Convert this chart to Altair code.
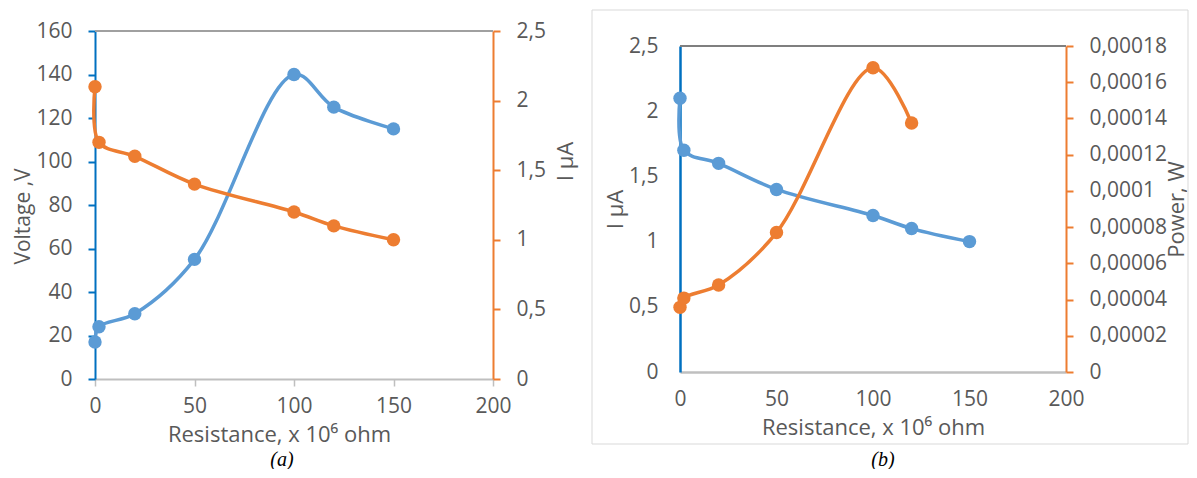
import altair as alt
import pandas as pd

# ---------------- data ----------------
res_a = [0, 2, 20, 50, 100, 120, 150]
volt_a = [17, 24, 30, 55, 140, 125, 115]
curr_a = [2.1, 1.7, 1.6, 1.4, 1.2, 1.1, 1.0]

res_b = [0, 2, 20, 50, 100, 120, 150]
curr_b = [2.1, 1.7, 1.6, 1.4, 1.2, 1.1, 1.0]
res_bp = [0, 2, 20, 50, 100, 120]
power_b = [0.0000357, 0.0000408, 0.000048, 0.000077, 0.000168, 0.0001375]

x_ticks = [0, 50, 100, 150, 200]
volt_ticks = [0, 20, 40, 60, 80, 100, 120, 140, 160]
curr_ticks = [0, 0.5, 1, 1.5, 2, 2.5]
power_ticks = [0, 0.00002, 0.00004, 0.00006, 0.00008, 0.0001, 0.00012, 0.00014, 0.00016, 0.00018]

x_title = "Resistance, x 10\u2076 ohm"

# ---------------- layout ----------------
W, H = 971, 348
A_XR = [0, 398]
A_YR = [348, 0]
B_XR = [585, 971]
B_YR = [341, 15]

BLUE = "#5B9BD5"
ORANGE = "#ED7D31"
AXBLUE = "#0070C0"
GRAY = "#BFBFBF"
TXT = "#595959"
FONT = "Open Sans"
LBL = 21
YT = 21
XT = 22

df_va = pd.DataFrame({"r": res_a, "v": volt_a})
df_ia = pd.DataFrame({"r": res_a, "i": curr_a})
df_ib = pd.DataFrame({"r": res_b, "i": curr_b})
df_pb = pd.DataFrame({"r": res_bp, "p": power_b})
one = pd.DataFrame({"k": [0]})

comma1 = "replace(format(datum.value, '.1~f'), '.', ',')"
comma5 = "replace(format(datum.value, '.5~f'), '.', ',')"


def series(df, ycol, color, xscale, yscale, xaxis, yaxis):
    base = alt.Chart(df).encode(
        x=alt.X("r:Q", scale=xscale, axis=xaxis),
        y=alt.Y(f"{ycol}:Q", scale=yscale, axis=yaxis),
    )
    line = base.mark_line(interpolate="catmull-rom", strokeWidth=3.5, color=color)
    pts = base.mark_circle(size=180, opacity=1, color=color)
    return line, pts


common = dict(grid=False, labelFlush=False, labelOverlap=False, labelBound=False)

xsA = alt.Scale(domain=[0, 200], range=A_XR, nice=False, zero=False)
xsB = alt.Scale(domain=[0, 200], range=B_XR, nice=False, zero=False)

axis_xA = alt.Axis(orient="bottom", values=x_ticks, format="d",
                   domainColor=GRAY, domainWidth=2, tickColor=GRAY, tickWidth=1.5,
                   tickSize=7, labelPadding=9, title=x_title, titleFontSize=XT,
                   titleX=184, titleY=55, titleBaseline="middle", **common)
axis_xB = alt.Axis(orient="bottom", offset=-7, values=x_ticks, format="d",
                   domainColor=GRAY, domainWidth=2.5, ticks=False, tickSize=0,
                   labelPadding=16, title=x_title, titleFontSize=XT,
                   titleY=55, titleBaseline="middle", **common)

axis_vA = alt.Axis(orient="left", values=volt_ticks, format="d",
                   domainColor=AXBLUE, domainWidth=2, tickColor=AXBLUE, tickWidth=2,
                   tickSize=7, labelPadding=16, title="Voltage ,V", titleFontSize=YT,
                   titleAngle=270, titleX=-72, titleY=185, titleBaseline="middle",
                   titleAlign="center", **common)
axis_iA = alt.Axis(orient="right", offset=-(W - A_XR[1]), values=curr_ticks,
                   labelExpr=comma1,
                   domainColor=ORANGE, domainWidth=2, tickColor=ORANGE, tickWidth=2,
                   tickSize=7, labelPadding=16, title="I \u00b5A", titleFontSize=YT + 1,
                   titleAngle=270, titleX=72, titleY=130, titleBaseline="middle",
                   titleAlign="center", **common)
axis_iB = alt.Axis(orient="left", offset=-B_XR[0], values=curr_ticks,
                   labelExpr=comma1,
                   domainColor=AXBLUE, domainWidth=2.5, ticks=False, tickSize=0,
                   labelPadding=22, title="I \u00b5A", titleFontSize=YT + 1,
                   titleAngle=270, titleX=-65, titleY=178, titleBaseline="middle",
                   titleAlign="center", **common)
axis_pB = alt.Axis(orient="right", values=power_ticks, labelExpr=comma5,
                   domainColor=ORANGE, domainWidth=2, tickColor=ORANGE, tickWidth=2,
                   tickSize=7, labelPadding=16, title="Power, W", titleFontSize=YT + 1,
                   titleAngle=270, titleX=110, titleY=178, titleBaseline="middle",
                   titleAlign="center", **common)

ysV = alt.Scale(domain=[0, 160], range=A_YR, nice=False, zero=False)
ysIA = alt.Scale(domain=[0, 2.5], range=A_YR, nice=False, zero=False)
ysIB = alt.Scale(domain=[0, 2.5], range=B_YR, nice=False, zero=False)
ysP = alt.Scale(domain=[0, 0.00018], range=B_YR, nice=False, zero=False)

# panel (a)
top_a = alt.Chart(one).mark_rule(color="#A0A0A0", strokeWidth=2).encode(
    x=alt.datum(0), x2=alt.datum(200), y=alt.datum(160))
lv, pv = series(df_va, "v", BLUE, xsA, ysV, axis_xA, axis_vA)
panel_a_v = alt.layer(top_a, lv, pv)
li, pi = series(df_ia, "i", ORANGE, xsA, ysIA, None, axis_iA)
panel_a_i = alt.layer(li, pi)

# panel (b)
top_b = alt.Chart(one).mark_rule(color="#7F7F7F", strokeWidth=2).encode(
    x=alt.datum(0), x2=alt.datum(200), y=alt.datum(2.5))
lib, pib = series(df_ib, "i", BLUE, xsB, ysIB, axis_xB, axis_iB)
panel_b_i = alt.layer(top_b, lib, pib)
lp, pp = series(df_pb, "p", ORANGE, xsB, ysP, None, axis_pB)
panel_b_p = alt.layer(lp, pp)

# decorations: frame of panel (b) and captions
frame_b = alt.Chart(one).mark_rect(fillOpacity=0, stroke="#D9D9D9", strokeWidth=1).encode(
    x=alt.value(497), x2=alt.value(1093), y=alt.value(-21), y2=alt.value(413))
cap = pd.DataFrame({"t": ["(a)", "(b)"], "px": [187, 788]})
captions = alt.Chart(cap).mark_text(font="Liberation Serif", fontStyle="italic",
                                    fontSize=20, color="#000000", baseline="middle").encode(
    text="t:N", x=alt.X("px:Q", scale=None), y=alt.value(429))

chart = alt.layer(frame_b, panel_a_v, panel_a_i, panel_b_i, panel_b_p, captions).resolve_scale(
    x="independent", y="independent"
).properties(
    width=W, height=H,
    padding={"left": 87, "top": 23, "right": 123, "bottom": 90},
    autosize=alt.AutoSizeParams(type="none"),
).configure_view(stroke=None).configure_axis(
    labelFont=FONT, labelFontSize=LBL, labelColor=TXT,
    titleFont=FONT, titleColor=TXT, titleFontWeight="normal",
)

chart.save("out.html", embed_options={"renderer": "svg", "actions": False})
